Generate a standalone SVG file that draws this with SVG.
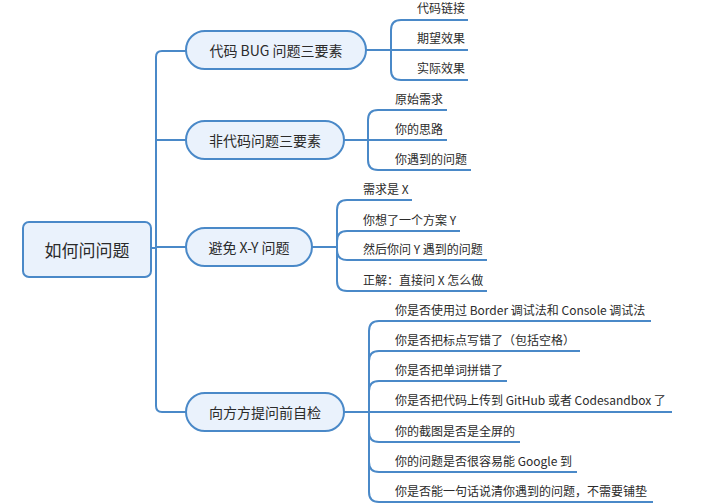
<svg xmlns="http://www.w3.org/2000/svg" width="702" height="504" viewBox="0 0 702 504">
<style>
.node{fill:#eaf2fc;stroke:#4a89c8;stroke-width:2}
.ln{fill:none;stroke:#4a89c8;stroke-width:2}
text{font-family:"Noto Sans CJK SC","Noto Sans",sans-serif;fill:#2b2b2b}
.root{font-size:17px;text-anchor:middle;dominant-baseline:central}
.br{font-size:14px;text-anchor:middle;dominant-baseline:central}
.lf{font-size:12px}
</style>
<rect width="702" height="504" fill="#ffffff"/>
<g id="connectors">
<path class="ln" d="M151,248 H156"/>
<path class="ln" d="M186,51 H162 Q156,51 156,57 V406 Q156,412 162,412 H186"/>
<path class="ln" d="M156,140 H186"/>
<path class="ln" d="M156,247 H186"/>
<!-- branch 1 -->
<path class="ln" d="M366,50 H468"/>
<path class="ln" d="M391,50 V30 Q391,20 401,20 H468"/>
<path class="ln" d="M391,50 V70 Q391,80 401,80 H468"/>
<!-- branch 2 -->
<path class="ln" d="M344,140 H447"/>
<path class="ln" d="M368,140 V120 Q368,110 378,110 H447"/>
<path class="ln" d="M368,140 V160 Q368,170 378,170 H471"/>
<!-- branch 3 -->
<path class="ln" d="M312,247 H337"/>
<path class="ln" d="M337,247 V210 Q337,200 347,200 H412"/>
<path class="ln" d="M337,247 V241 Q337,231 347,231 H460"/>
<path class="ln" d="M337,247 V250 Q337,260 347,260 H487"/>
<path class="ln" d="M337,247 V281 Q337,291 347,291 H487"/>
<!-- branch 4 -->
<path class="ln" d="M344,412 H672"/>
<path class="ln" d="M369,412 V331 Q369,321 379,321 H651"/>
<path class="ln" d="M369,412 V361 Q369,351 379,351 H580"/>
<path class="ln" d="M369,412 V391 Q369,381 379,381 H507"/>
<path class="ln" d="M369,412 V432 Q369,442 379,442 H520"/>
<path class="ln" d="M369,412 V462 Q369,472 379,472 H577"/>
<path class="ln" d="M369,412 V492 Q369,502 379,502 H653"/>
</g>
<g id="root">
<rect class="node" x="23" y="222" width="128" height="55" rx="6"/>
<text class="root" x="87" y="249.5">如何问问题</text>
</g>
<g id="b1">
<rect class="node" x="186" y="31" width="180" height="38" rx="19"/>
<text class="br" x="276" y="50">代码 BUG 问题三要素</text>
</g>
<g id="b2">
<rect class="node" x="186" y="121" width="158" height="38" rx="19"/>
<text class="br" x="265" y="140">非代码问题三要素</text>
</g>
<g id="b3">
<rect class="node" x="186" y="228" width="126" height="38" rx="19"/>
<text class="br" x="249" y="247">避免 X-Y 问题</text>
</g>
<g id="b4">
<rect class="node" x="186" y="393" width="158" height="38" rx="19"/>
<text class="br" x="265" y="412">向方方提问前自检</text>
</g>
<g id="leaves1">
<text class="lf" x="417" y="13">代码链接</text>
<text class="lf" x="417" y="43">期望效果</text>
<text class="lf" x="417" y="73">实际效果</text>
</g>
<g id="leaves2">
<text class="lf" x="395" y="104">原始需求</text>
<text class="lf" x="395" y="134">你的思路</text>
<text class="lf" x="395" y="164">你遇到的问题</text>
</g>
<g id="leaves3">
<text class="lf" x="363" y="194">需求是 X</text>
<text class="lf" x="363" y="225">你想了一个方案 Y</text>
<text class="lf" x="363" y="254">然后你问 Y 遇到的问题</text>
<text class="lf" x="363" y="285">正解：直接问 X 怎么做</text>
</g>
<g id="leaves4">
<text class="lf" x="395" y="315">你是否使用过 Border 调试法和 Console 调试法</text>
<text class="lf" x="395" y="345">你是否把标点写错了（包括空格）</text>
<text class="lf" x="395" y="375">你是否把单词拼错了</text>
<text class="lf" x="395" y="405">你是否把代码上传到 GitHub 或者 Codesandbox 了</text>
<text class="lf" x="395" y="436">你的截图是否是全屏的</text>
<text class="lf" x="395" y="466">你的问题是否很容易能 Google 到</text>
<text class="lf" x="395" y="496">你是否能一句话说清你遇到的问题，不需要铺垫</text>
</g>
</svg>
